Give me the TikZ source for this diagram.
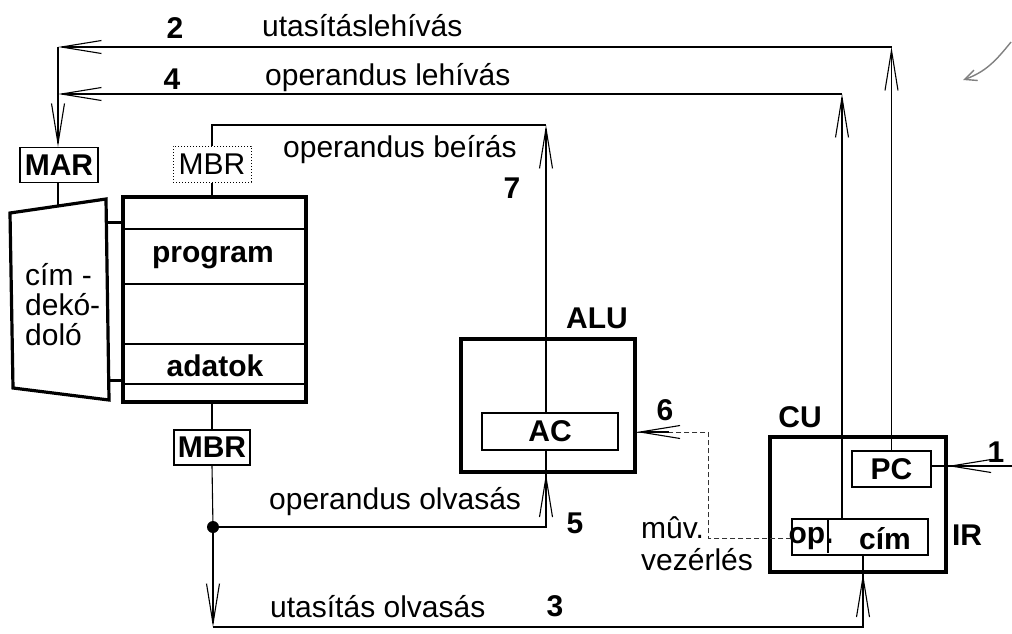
\documentclass[tikz,border=0pt]{standalone}
\usepackage{fontspec}
\setmainfont{Liberation Sans}
\usetikzlibrary{arrows.meta}
\begin{document}
\begin{tikzpicture}[x=1pt,y=-1pt,
  ln/.style={line width=1.1pt},
  thickbox/.style={draw, line width=3.2pt, inner sep=0pt},
  regbox/.style={draw, line width=1.2pt, inner sep=0pt},
  dotbox/.style={draw, dotted, line width=1pt, inner sep=0pt},
  lbl/.style={font=\fontsize{30}{30}\selectfont, inner sep=0pt},
  blbl/.style={font=\fontsize{30}{30}\selectfont\bfseries, inner sep=0pt},
  arr/.style={line width=1.1pt, -{Straight Barb[length=40pt,width=13pt,line width=1.1pt]}},
  bar/.style={line width=3pt}
]
\useasboundingbox (0,0) rectangle (1012,633);

% ---- memory side ----
\node[regbox, blbl, minimum width=78pt, minimum height=35pt] (mar) at (59,165) {MAR};
\draw[line width=3.2pt, line join=miter] (10,213) -- (106,199) -- (109,400) -- (13,388) -- cycle;
\coordinate (dectop) at (58,206);
\node[lbl, align=left, anchor=west] (dec) at (25,305) {cím -\\dekó-\\doló};
\node[thickbox, minimum width=183pt, minimum height=205pt] (mem) at (214.5,299.5) {};
\draw[ln] (mem.west |- 0,229) -- (mem.east |- 0,229);
\draw[ln] (mem.west |- 0,284) -- (mem.east |- 0,284);
\draw[ln] (mem.west |- 0,344) -- (mem.east |- 0,344);
\draw[ln] (mem.west |- 0,384) -- (mem.east |- 0,384);
\node[blbl] (prog) at (213,258) {program};
\node[blbl] (adat) at (215,366) {adatok};
\draw[bar] (107.5,222) -- (mem.west |- 0,222);
\draw[bar] (108.8,380) -- (mem.west |- 0,380);
\draw[ln] (mar.south -| dectop) -- (dectop);

\node[dotbox, lbl, minimum width=78pt, minimum height=36pt] (mbrt) at (212,164) {MBR};
\draw[ln] (mbrt.south) -- (mbrt.south |- mem.north);
\node[regbox, blbl, minimum width=76pt, minimum height=35pt] (mbrb) at (212,447.5) {MBR};
\draw[ln] (mbrb.north |- mem.south) -- (mbrb.north);

% ---- ALU ----
\node[thickbox, minimum width=174pt, minimum height=133pt] (alu) at (548,405.5) {};
\node[blbl] (alulbl) at (597,318) {ALU};
\node[regbox, blbl, minimum width=136pt, minimum height=37pt] (ac) at (550,431.5) {AC};

% ---- CU ----
\node[thickbox, minimum width=176pt, minimum height=135pt] (cu) at (858,504.5) {};
\node[blbl] (culbl) at (800,417) {CU};
\node[regbox, blbl, minimum width=79pt, minimum height=36pt] (pc) at (891.5,469) {PC};
\node[regbox, minimum width=136pt, minimum height=36pt] (ir) at (860,537) {};
\node[blbl] (op) at (811,539) {op.};
\node[blbl] (cim) at (885,539) {cím};
\draw[ln] (828,519) -- (828,553);
\node[blbl] (irlbl) at (967,535) {IR};

% ---- coordinates ----
\coordinate (l2L) at (58,47);
\coordinate (l2R) at (891.5,47);
\coordinate (l4L) at (58,94);
\coordinate (l4R) at (842,94);
\coordinate (irtop) at (842,519);
\coordinate (wL) at (212,125);
\coordinate (wR) at (546,125);
\coordinate (acTop) at (546,413);
\coordinate (acBot) at (546,450);
\coordinate (j5) at (213,527);
\coordinate (k5) at (546,527);
\coordinate (bL) at (213,627);
\coordinate (bR) at (863,627);
\coordinate (irBot) at (863,555);
\coordinate (in1) at (1012,466);
\coordinate (d1) at (708,538);
\coordinate (d2) at (708,432);

% ---- connectors ----
% 2: instruction fetch address
\draw[arr] (pc.north) -- (l2R);
\draw[arr] (l2R) -- (l2L);
\draw[ln] (l2L) -- (l4L);
\draw[arr] (l4L) -- (mar.north -| l4L);
% 4: operand fetch address
\draw[arr] (irtop) -- (l4R);
\draw[arr] (l4R) -- (l4L);
% 7: operand write
\draw[ln] (mbrt.north) -- (wL) -- (wR);
\draw[arr] (acTop) -- (wR);
% 5: operand read
\draw[ln] (mbrb.south) -- (j5);
\fill (j5) circle (6pt);
\draw[ln] (j5) -- (k5) -- (acBot);
\draw[arr] (k5) -- (alu.south -| k5);
% 3: instruction read
\draw[arr] (j5) -- (bL);
\draw[ln] (bL) -- (bR) -- (irBot);
\draw[arr] (bR) -- (cu.south -| bR);
% 1: start
\draw[ln] (in1) -- (pc.east |- in1);
\draw[arr] (in1) -- (cu.east |- in1);
% 6: control
\draw[dash pattern=on 5pt off 3pt, line width=0.8pt, draw=black!80] (ir.west |- d1) -- (d1) -- (d2) -- (alu.east |- d2);
\draw[line width=1.1pt, -{Straight Barb[length=40pt,width=13pt,line width=1.1pt]}, shorten <=39pt] (d2) -- (alu.east |- d2);

% ---- labels ----
\node[blbl] (n2) at (175,28) {2};
\node[lbl, anchor=west] (t2) at (262,26) {utasításlehívás};
\node[blbl] (n4) at (172,79) {4};
\node[lbl, anchor=west] (t4) at (265,78) {operandus lehívás};
\node[lbl, anchor=west] (t7) at (283,150) {operandus beírás};
\node[blbl] (n7) at (512,188) {7};
\node[blbl] (n6) at (665,410) {6};
\node[blbl] (n1) at (996,452) {1};
\node[blbl] (n5) at (575,523) {5};
\node[lbl, anchor=west] (t5) at (269,502) {operandus olvasás};
\node[lbl, anchor=west] (t6a) at (641,528) {mûv.};
\node[lbl, anchor=west] (t6b) at (641,560) {vezérlés};
\node[lbl, anchor=west] (t3) at (270,607) {utasítás olvasás};
\node[blbl] (n3) at (555,606) {3};

% ---- pencil mark ----
\draw[gray, line width=1.4pt, -{Straight Barb[length=12pt,width=11pt,line width=1.4pt]}] (1011,42) .. controls (995,62) and (985,72) .. (963,80);
\end{tikzpicture}
\end{document}
